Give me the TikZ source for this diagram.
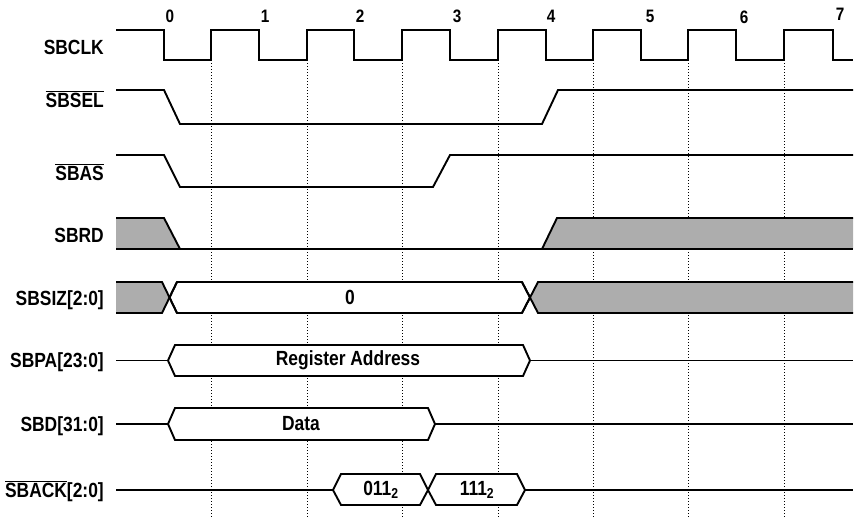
\documentclass[tikz,border=0pt]{standalone}
\usepackage{fontspec}
\setmainfont{Liberation Sans}[FakeStretch=0.85]
\usepackage{tikz}

\tikzset{
    sigline/.style={line width=1.9pt, line join=miter},
    clkgrid/.style={line width=0.9pt, dash pattern=on 1pt off 2pt},
    undef/.style={fill=black!32},
    busbox/.style={sigline, fill=white},
    siglabel/.style={anchor=base east, inner sep=0pt, font=\fontsize{20.5}{23}\selectfont\bfseries},
    cyclenum/.style={anchor=base, inner sep=0pt, font=\fontsize{18}{20}\selectfont\bfseries},
    boxtext/.style={inner sep=0pt, font=\fontsize{20.5}{23}\selectfont\bfseries}
}

\begin{document}
\begin{tikzpicture}[x=1pt,y=-1pt]
        \useasboundingbox (0,0) rectangle (858,517);

        % signal names
        \node[siglabel] (sbclk) at (104,54) {SBCLK};
        \node[siglabel] (sbsel) at (104,107) {$\overline{\mbox{SBSEL}}$};
        \node[siglabel] (sbas) at (104,180) {$\overline{\mbox{SBAS}}$};
        \node[siglabel] (sbrd) at (104,242) {SBRD};
        \node[siglabel] (sbsiz) at (104,305) {SBSIZ[2:0]};
        \node[siglabel] (sbpa) at (104,367) {SBPA[23:0]};
        \node[siglabel] (sbd) at (104,431) {SBD[31:0]};
        \node[siglabel] (sback) at (104,497) {$\overline{\mbox{SBACK}}$[2:0]};

        % cycle numbers
        \node[cyclenum] (c0) at (170,22) {0};
        \node[cyclenum] (c1) at (265,22) {1};
        \node[cyclenum] (c2) at (360,22) {2};
        \node[cyclenum] (c3) at (457,22) {3};
        \node[cyclenum] (c4) at (551,22) {4};
        \node[cyclenum] (c5) at (650,22) {5};
        \node[cyclenum] (c6) at (744,23) {6};
        \node[cyclenum] (c7) at (840,20) {7};

        % rising edges
        \draw[clkgrid] (211,60) -- (211,517);
        \draw[clkgrid] (307,60) -- (307,517);
        \draw[clkgrid] (402,60) -- (402,517);
        \draw[clkgrid] (498,60) -- (498,517);
        \draw[clkgrid] (593,60) -- (593,517);
        \draw[clkgrid] (688,60) -- (688,517);
        \draw[clkgrid] (784,60) -- (784,517);

        % SBCLK
        \draw[sigline] (116,30) -- (164,30) -- (164,60) -- (211,60) -- (211,30)
            -- (259,30) -- (259,60) -- (307,60) -- (307,30) -- (354,30) -- (354,60)
            -- (402,60) -- (402,30) -- (450,30) -- (450,60) -- (498,60) -- (498,30)
            -- (546,30) -- (546,60) -- (593,60) -- (593,30) -- (641,30) -- (641,60)
            -- (688,60) -- (688,30) -- (736,30) -- (736,60) -- (784,60) -- (784,30)
            -- (833,30) -- (833,60) -- (853,60);

        % SBSEL, SBAS
        \draw[sigline] (116,90) -- (164,90) -- (180,124) -- (542,124) -- (558,90) -- (853,90);
        \draw[sigline] (116,155) -- (164,155) -- (180,187) -- (433,187) -- (450,155) -- (853,155);

        % SBRD
        \fill[undef] (116,218) -- (164,218) -- (180,249) -- (116,249) -- cycle;
        \fill[undef] (542,249) -- (557,218) -- (853,218) -- (853,249) -- cycle;
        \draw[sigline] (116,218) -- (164,218) -- (180,249);
        \draw[sigline] (542,249) -- (557,218) -- (853,218);
        \draw[sigline] (116,249) -- (853,249);

        % SBSIZ
        \fill[undef] (116,282) -- (162,282) -- (169.5,297.5) -- (162,313) -- (116,313) -- cycle;
        \fill[undef] (530,297.5) -- (538,282) -- (853,282) -- (853,313) -- (538,313) -- cycle;
        \draw[busbox] (169.5,297.5) -- (177,282) -- (522,282) -- (530,297.5) -- (522,313) -- (177,313) -- cycle;
        \draw[sigline] (116,282) -- (162,282) -- (177,313);
        \draw[sigline] (116,313) -- (162,313) -- (177,282);
        \draw[sigline] (522,282) -- (538,313) -- (853,313);
        \draw[sigline] (522,313) -- (538,282) -- (853,282);
        \node[boxtext] (size0) at (350,297.5) {0};

        % SBPA
        \draw[sigline] (116,360.5) -- (168,360.5);
        \draw[busbox] (168,360.5) -- (175,345) -- (523,345) -- (530,360.5) -- (523,376) -- (175,376) -- cycle;
        \draw[sigline] (530,360.5) -- (853,360.5);
        \node[boxtext] (regaddr) at (348,360.5) {Register Address};

        % SBD
        \draw[sigline] (116,424) -- (168,424);
        \draw[busbox] (168,424) -- (175,408) -- (428,408) -- (435,424) -- (428,440) -- (175,440) -- cycle;
        \draw[sigline] (435,424) -- (853,424);
        \node[boxtext] (data) at (301,424) {Data};

        % SBACK
        \draw[sigline] (116,490) -- (333,490);
        \draw[busbox] (333,490) -- (341,474) -- (420,474) -- (428,490) -- (420,505) -- (341,505) -- cycle;
        \draw[busbox] (428,490) -- (436,474) -- (517,474) -- (525,490) -- (517,505) -- (436,505) -- cycle;
        \draw[sigline] (525,490) -- (853,490);
        \node[boxtext] (ack011) at (381,490) {011\textsubscript{2}};
        \node[boxtext] (ack111) at (477,490) {111\textsubscript{2}};
    \end{tikzpicture}
\end{document}
